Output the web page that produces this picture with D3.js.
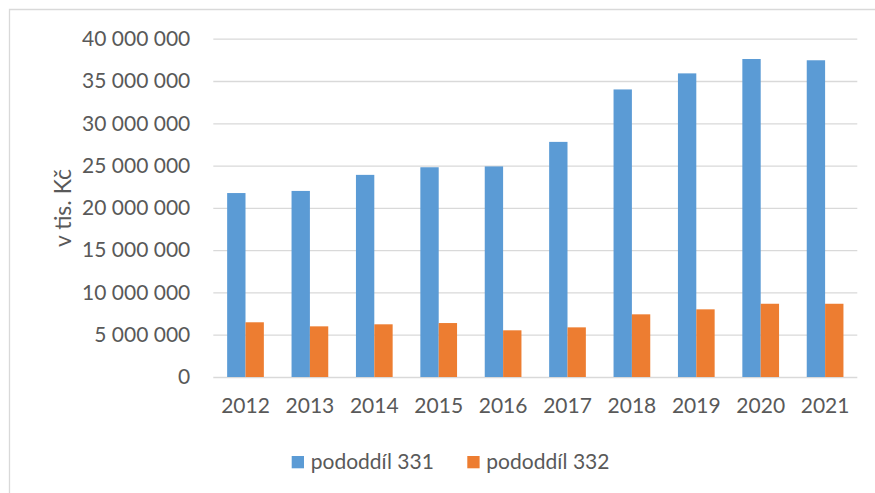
<!DOCTYPE html>
<html>
<head>
<meta charset="utf-8">
<script src="https://cdn.jsdelivr.net/npm/d3@7"></script>
<style>
  body { margin: 0; background: #fff; }
  text { font-family: Lato, "Open Sans", sans-serif; fill: #595959; }
</style>
</head>
<body>
<div id="chart"></div>
<script>
const years = ["2012", "2013", "2014", "2015", "2016", "2017", "2018", "2019", "2020", "2021"];
const seriesNames = ["pododdíl 331", "pododdíl 332"];
const values331 = [21750000, 22000000, 23900000, 24800000, 24900000, 27800000, 34000000, 35900000, 37600000, 37450000];
const values332 = [6470000, 5990000, 6230000, 6380000, 5520000, 5870000, 7410000, 8000000, 8660000, 8660000];
const yTicks = [0, 5000000, 10000000, 15000000, 20000000, 25000000, 30000000, 35000000, 40000000];
const colors = ["#5B9BD5", "#ED7D31"];

const W = 875, H = 493;
const margin = {top: 38.7, right: 17.7, bottom: 116, left: 213.3};

const svg = d3.select("#chart").append("svg")
    .attr("width", W)
    .attr("height", H);

// chart area border (only top and left visible)
svg.append("path")
  .attr("d", "M9.5," + H + "V9.5H" + W)
  .attr("fill", "none")
  .attr("stroke", "#d9d9d9")
  .attr("stroke-width", 1.3);

const x0 = d3.scaleBand()
    .domain(years)
    .range([margin.left, W - margin.right])
    .paddingInner(0.43)
    .paddingOuter(0.215);

const x1 = d3.scaleBand()
    .domain(seriesNames)
    .range([0, x0.bandwidth()]);

const y = d3.scaleLinear()
    .domain([0, 40000000])
    .range([H - margin.bottom, margin.top]);

const fmt = d3.formatLocale({decimal: ",", thousands: "\u00a0", grouping: [3], currency: ["", " Kč"]}).format(",");

// gridlines + tick labels
const yAxis = svg.append("g")
    .attr("transform", "translate(" + margin.left + ",0)")
    .call(d3.axisLeft(y).tickValues(yTicks).tickFormat(fmt)
      .tickSize(-(W - margin.right - margin.left)).tickPadding(23));
yAxis.select(".domain").remove();
yAxis.selectAll(".tick line").attr("stroke", "#d9d9d9").attr("stroke-width", 1.3);
yAxis.selectAll(".tick text").style("font-size", "21px").attr("fill", "#595959");

const rows = years.map((yr, i) => ({year: yr, vals: [values331[i], values332[i]]}));

const groups = svg.append("g").selectAll("g")
  .data(rows)
  .join("g")
    .attr("transform", d => "translate(" + x0(d.year) + ",0)");

groups.selectAll("rect")
  .data(d => d.vals.map((v, j) => ({name: seriesNames[j], v: v, j: j})))
  .join("rect")
    .attr("x", d => x1(d.name))
    .attr("width", x1.bandwidth())
    .attr("y", d => y(d.v))
    .attr("height", d => y(0) - y(d.v))
    .attr("fill", d => colors[d.j]);

// x labels
const xAxis = svg.append("g")
    .attr("transform", "translate(0," + y(0) + ")")
    .call(d3.axisBottom(x0).tickSize(0).tickPadding(21));
xAxis.select(".domain").remove();
xAxis.selectAll(".tick text").style("font-size", "21px").attr("fill", "#595959");

// y title
svg.append("text")
  .attr("transform", "translate(71,208) rotate(-90)")
  .attr("text-anchor", "middle")
  .style("font-size", "23px")
  .text("v tis. Kč");

// legend
const legendX = [291.7, 467.3];
const legend = svg.append("g").selectAll("g")
  .data(seriesNames)
  .join("g")
    .attr("transform", (d, i) => "translate(" + legendX[i] + ",456)");
legend.append("rect")
  .attr("width", 12.3)
  .attr("height", 12.3)
  .attr("fill", (d, i) => colors[i]);
legend.append("text")
  .attr("x", 19)
  .attr("y", 12.8)
  .style("font-size", "21px")
  .text(d => d);
</script>
</body>
</html>
